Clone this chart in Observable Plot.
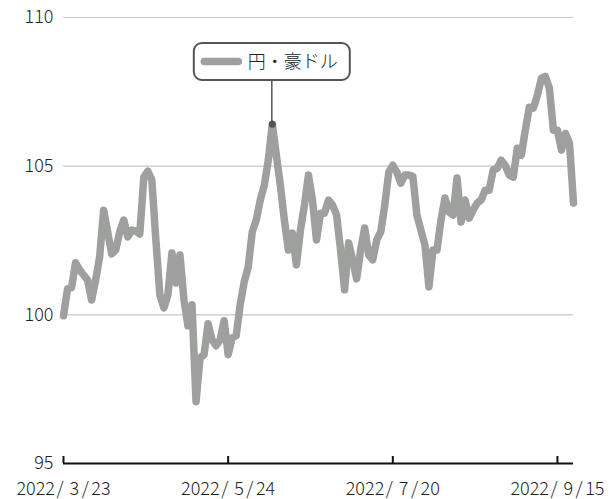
<!DOCTYPE html>
<html><head><meta charset="utf-8">
<script src="https://cdn.jsdelivr.net/npm/d3@7"></script>
<script src="https://cdn.jsdelivr.net/npm/@observablehq/plot@0.6"></script>
<style>body{margin:0;background:#fff} svg{display:block}</style>
</head><body><div id="chart"></div>
<script>
// Daily JPY per AUD (trading days)
const values = [
  99.97, 100.87, 100.91, 101.75, 101.51, 101.34, 101.17, 100.50, 101.17, 101.95,
  103.52, 102.79, 102.05, 102.18, 102.79, 103.19, 102.62, 102.85, 102.82, 102.72,
  104.63, 104.83, 104.53, 102.52, 100.67, 100.23, 100.67, 102.08, 101.07, 102.01,
  100.50, 99.63, 100.34, 97.08, 98.56, 98.66, 99.70, 99.16, 98.96, 99.16,
  99.80, 98.66, 99.23, 99.30, 100.34, 101.11, 101.61, 102.79, 103.19, 103.86,
  104.36, 105.20, 106.41, 105.37, 104.36, 103.19, 102.18, 102.75, 101.68, 102.85,
  103.69, 104.70, 103.86, 102.52, 103.42, 103.42, 103.86, 103.69, 103.36, 102.18,
  100.84, 102.42, 101.85, 101.21, 102.18, 102.92, 102.01, 101.85, 102.52, 102.79,
  103.69, 104.80, 105.03, 104.80, 104.43, 104.70, 104.70, 104.66, 103.36, 102.85,
  102.35, 100.94, 102.18, 102.18, 103.19, 103.93, 103.46, 103.36, 104.60, 103.12,
  103.86, 103.25, 103.52, 103.76, 103.86, 104.19, 104.19, 104.87, 104.93, 105.20,
  105.03, 104.70, 104.63, 105.60, 105.37, 106.21, 106.98, 106.95, 107.38, 107.95,
  108.02, 107.62, 106.21, 106.21, 105.54, 106.10, 105.77, 103.76
];
const tickIndex = [0, 41, 82, 123];
const tickLabels = ["2022/ 3/23", "2022/ 5/24", "2022/ 7/20", "2022/ 9/15"];
const yTicks = [95, 100, 105, 110];
const gridValues = [100, 105, 110];
const seriesName = "円・豪ドル";
const labelIndex = 52;

const lineColor = "#9ea09e";
const font = '"Noto Sans CJK JP", "Noto Sans", sans-serif';
const data = values.map((v, i) => ({i, v}));

const plot = Plot.plot({
  width: 614, height: 499,
  marginLeft: 63, marginRight: 41, marginTop: 17, marginBottom: 36,
  style: {fontFamily: font, fontSize: "18px", fontWeight: 300, color: "#222", background: "#fff", overflow: "visible"},
  x: {domain: [0, values.length - 1], ticks: tickIndex,
      tickFormat: i => tickLabels[tickIndex.indexOf(i)], tickSize: 0, tickPadding: 19, label: null},
  y: {domain: [95, 110], ticks: yTicks, tickSize: 0, tickPadding: 10, label: null},
  marks: [
    Plot.ruleY(gridValues, {stroke: "#c8c8c8", strokeWidth: 1.2}),
    Plot.ruleY([95], {stroke: "#111", strokeWidth: 2}),
    Plot.ruleX(tickIndex, {y1: 95, y2: 95, insetBottom: 7, stroke: "#111", strokeWidth: 2}),
    Plot.line(data, {x: "i", y: "v", stroke: lineColor, strokeWidth: 7.5,
      strokeLinejoin: "round", strokeLinecap: "round"}),
    Plot.dot([data[labelIndex]], {x: "i", y: "v", r: 3.5, fill: "#555", stroke: "none"})
  ]
});
document.getElementById("chart").appendChild(plot);

const svg = d3.select(plot);

// Widen the date labels' separators (the original font has a wide slash)
svg.selectAll("text").each(function() {
  const t = this.textContent;
  if (!tickLabels.includes(t)) return;
  const parts = t.split("/");
  const sel = d3.select(this).text("");
  parts.forEach((p, k) => {
    if (k > 0) sel.append("tspan").attr("dx", k === 1 ? 1.5 : 2.5).text("/");
    sel.append("tspan").attr("dx", k === 0 ? 0 : (k === 1 ? 2 : 2.5)).text(p);
  });
});

// Annotation label box
const cx = plot.scale("x").apply(labelIndex);
const cy = plot.scale("y").apply(values[labelIndex]);
const boxTop = 43, boxH = 37;
const g = svg.append("g").attr("text-anchor", "start");
g.append("line").attr("x1", cx).attr("x2", cx)
  .attr("y1", boxTop + boxH).attr("y2", cy).attr("stroke", "#555").attr("stroke-width", 1.5);
const rect = g.append("rect").attr("y", boxTop).attr("height", boxH).attr("rx", 8)
  .attr("fill", "#fff").attr("stroke", "#555").attr("stroke-width", 2);
const sw = g.append("line").attr("stroke", lineColor).attr("stroke-width", 7.5)
  .attr("stroke-linecap", "round");
const txt = g.append("text").text(seriesName).attr("font-family", font)
  .attr("text-anchor", "start")
  .attr("font-size", 18).attr("fill", "#222").attr("y", boxTop + boxH / 2).attr("dy", "0.36em");
const tw = txt.node().getComputedTextLength();
const boxW = 54 + tw + 12;
const left = cx - boxW / 2;
rect.attr("x", left).attr("width", boxW);
sw.attr("x1", left + 10.5).attr("x2", left + 44.5)
  .attr("y1", boxTop + boxH / 2).attr("y2", boxTop + boxH / 2);
txt.attr("x", left + 54);
</script>
</body></html>
